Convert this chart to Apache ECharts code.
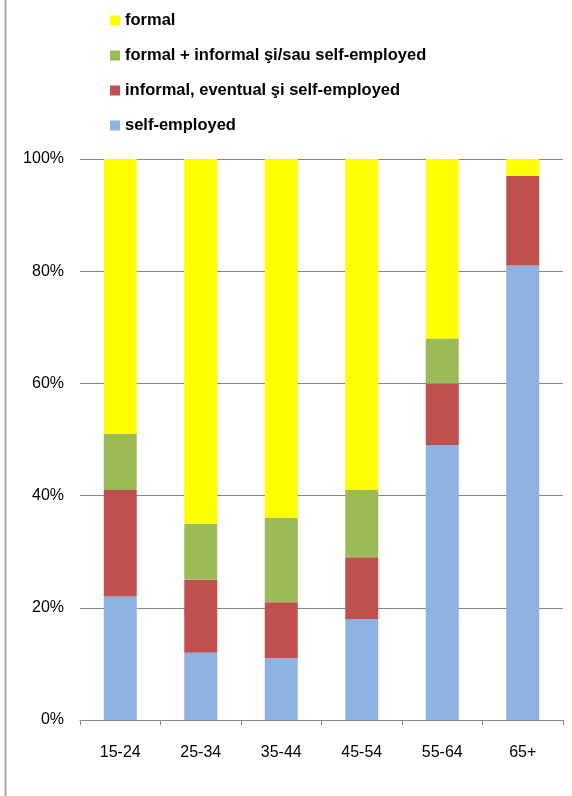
<!DOCTYPE html>
<html>
<head>
<meta charset="utf-8">
<script src="https://cdn.jsdelivr.net/npm/echarts@6/dist/echarts.min.js"></script>
<style>
html,body{margin:0;padding:0;background:#fff;}
#chart{width:572px;height:796px;}
</style>
</head>
<body>
<div id="chart"></div>
<script>
const categories = ['15-24', '25-34', '35-44', '45-54', '55-64', '65+'];
const selfEmployed = [22, 12, 11, 18, 49, 81];
const informal = [19, 13, 10, 11, 11, 16];
const formalInformal = [10, 10, 15, 12, 8, 0];
const formal = [49, 65, 64, 59, 32, 3];
const seriesNames = ['self-employed', 'informal, eventual şi self-employed', 'formal + informal şi/sau self-employed', 'formal'];
const yTicks = [0, 20, 40, 60, 80, 100];

const colors = ['#8DB3E2', '#C0504D', '#9BBB59', '#FFFF00'];
const values = [selfEmployed, informal, formalInformal, formal];

const chart = echarts.init(document.getElementById('chart'), null, {renderer: 'canvas'});
chart.setOption({
  animation: false,
  backgroundColor: '#ffffff',
  graphic: [{
    type: 'line',
    shape: {x1: 5.5, y1: 0, x2: 5.5, y2: 796},
    style: {stroke: '#a6a6a6', lineWidth: 2}
  }],
  legend: {
    orient: 'vertical',
    left: 110,
    top: 12,
    padding: 0,
    itemWidth: 10,
    itemHeight: 10,
    itemGap: 18,
    icon: 'rect',
    data: seriesNames.slice().reverse(),
    textStyle: {fontFamily: 'Liberation Sans', fontWeight: 'bold', fontSize: 16.5, color: '#000', lineHeight: 16}
  },
  grid: {left: 80, right: 9, top: 159, bottom: 76, containLabel: false},
  xAxis: {
    type: 'category',
    data: categories,
    axisLine: {lineStyle: {color: '#868686', width: 1}},
    axisTick: {show: true, length: 5, lineStyle: {color: '#868686'}},
    axisLabel: {fontFamily: 'Liberation Sans', fontSize: 16, color: '#000', margin: 25}
  },
  yAxis: {
    type: 'value',
    min: yTicks[0],
    max: yTicks[yTicks.length - 1],
    interval: 20,
    axisLine: {show: false},
    axisTick: {show: false},
    splitLine: {lineStyle: {color: '#868686', width: 1}},
    axisLabel: {fontFamily: 'Liberation Sans', fontSize: 16, color: '#000', margin: 16, formatter: v => v + '%'}
  },
  series: seriesNames.map((n, i) => ({
    name: n,
    type: 'bar',
    stack: 'total',
    barWidth: '41%',
    data: values[i],
    itemStyle: {color: colors[i]}
  }))
});
</script>
</body>
</html>
